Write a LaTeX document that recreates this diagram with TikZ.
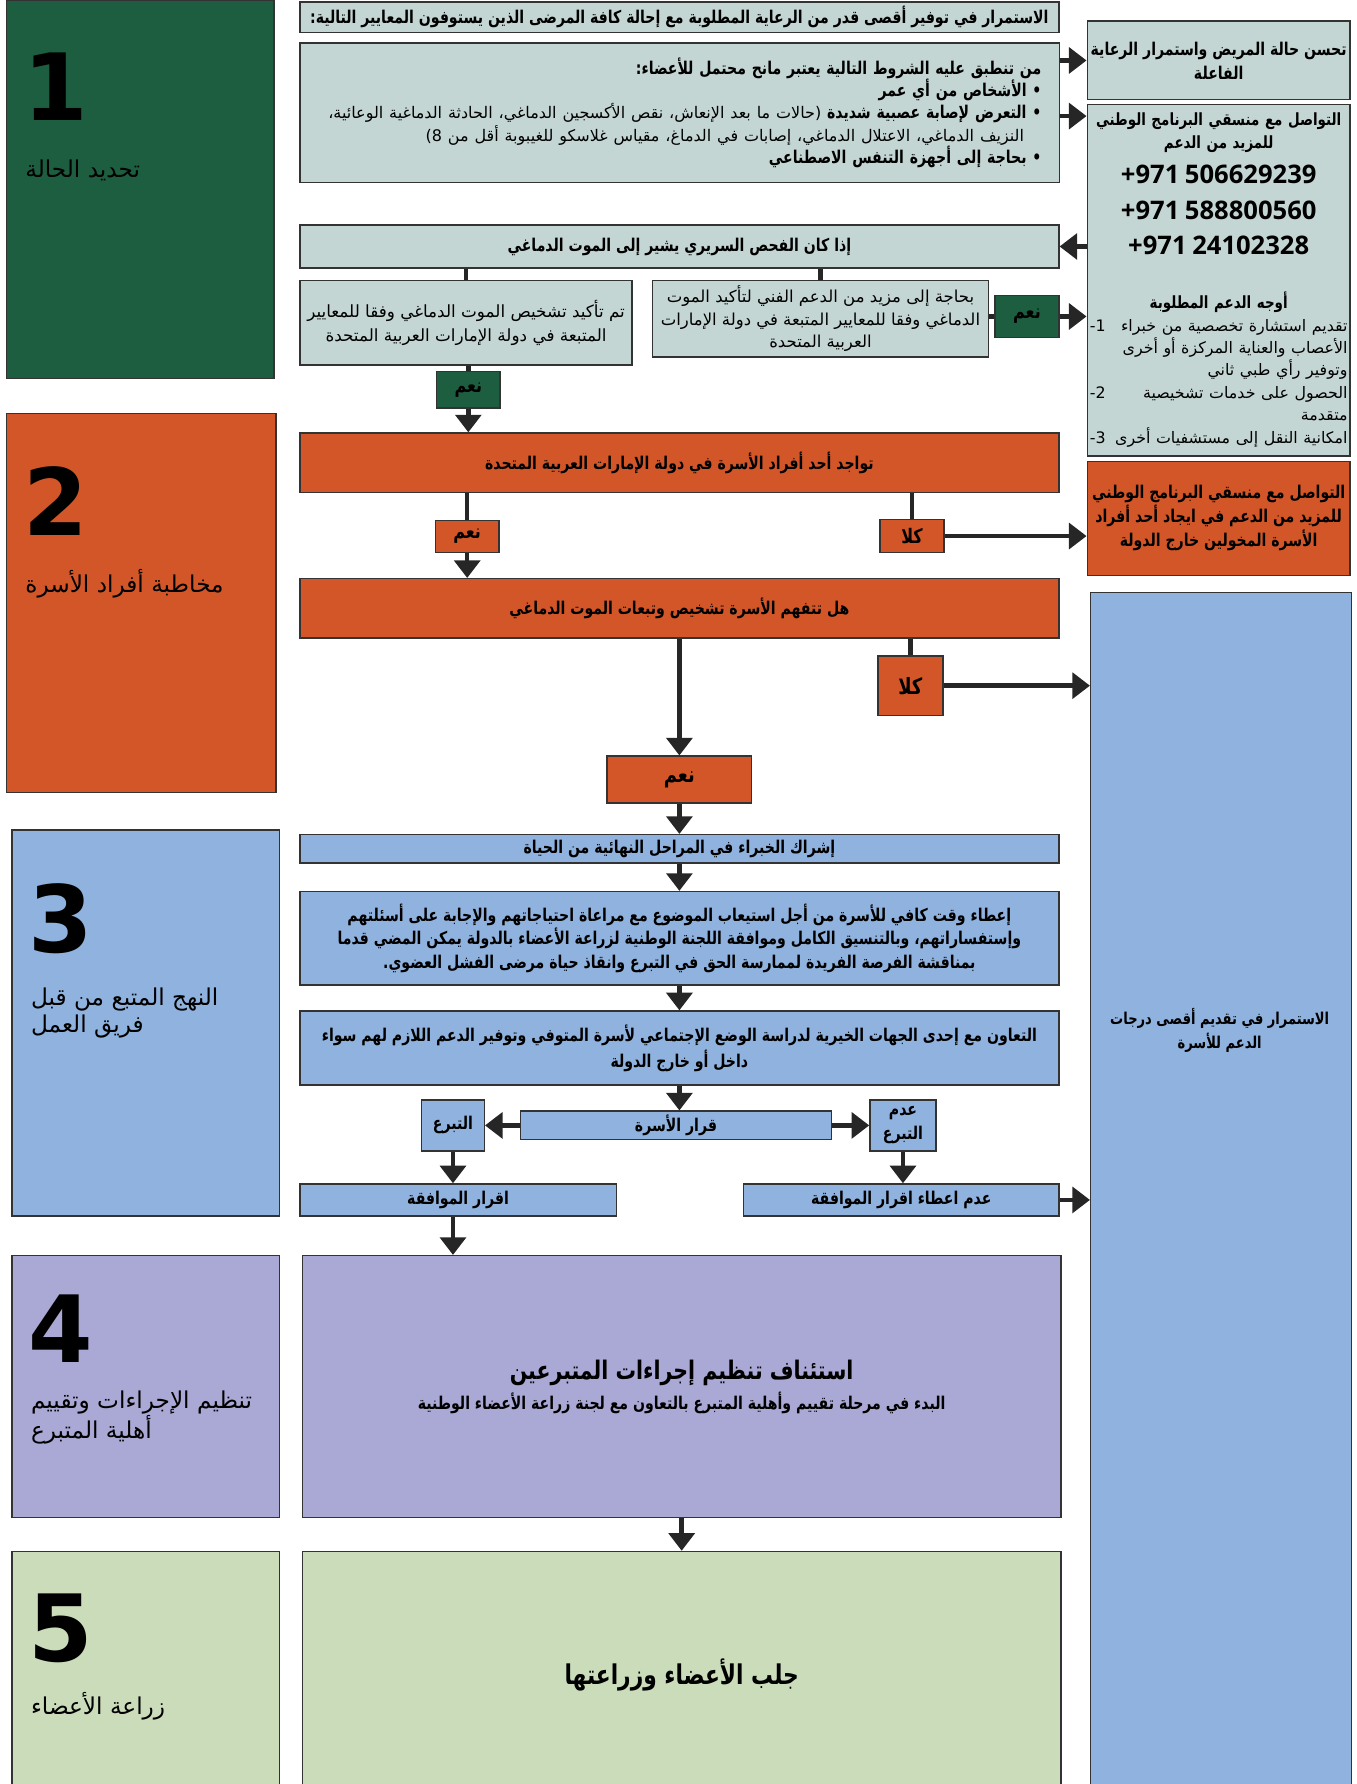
\documentclass[tikz,border=0pt]{standalone}
\usepackage{fontspec}
\setmainfont{DejaVu Sans}
\newfontfamily\arabicfont[Script=Arabic, BoldFeatures={FakeStretch=0.8}]{DejaVu Sans}
\newfontfamily\stagefont[Script=Arabic]{DejaVu Sans}
\newfontfamily\phonefont{Open Sans}
\TeXXeTstate=1
\usetikzlibrary{arrows.meta}

\definecolor{stepgreen}{HTML}{1E5E40}
\definecolor{famorange}{HTML}{D35628}
\definecolor{infogrey}{HTML}{C4D6D4}
\definecolor{teamblue}{HTML}{8FB2DE}
\definecolor{organlilac}{HTML}{AAA8D4}
\definecolor{graftgreen}{HTML}{CADCBA}

\newcommand{\artext}[1]{\beginR #1\endR}

\begin{document}
\begin{tikzpicture}[x=0.025cm, y=-0.025cm,
		wh/.style 2 args={minimum width=#1*0.025cm, minimum height=#2*0.025cm},
		box/.style={draw=black!80, line width=0.9pt, anchor=north west, inner sep=2pt, align=center,
			font=\arabicfont\bfseries\fontsize{11}{14}\selectfont},
		plainfont/.style={font=\arabicfont\fontsize{10.5}{15}\selectfont},
		yesno/.style={box, font=\arabicfont\bfseries\fontsize{12.5}{14}\selectfont},
		stage/.style={draw=black!80, line width=0.9pt, anchor=north west},
		stagenum/.style={anchor=north west, inner sep=0pt, font=\bfseries\fontsize{58}{58}\selectfont},
		stagetext/.style={anchor=north west, inner sep=0pt, align=left, font=\stagefont\fontsize{14.5}{17}\selectfont},
		link/.style={draw=black!85, line width=2.8pt},
		flow/.style={link, -{Triangle[length=11pt, width=16pt]}}]
	
	\useasboundingbox (0,0) rectangle (1192,1568);
	\clip (0,0) rectangle (1192,1568);
	
	% stages on the left
	\node[stage, fill=stepgreen, wh={235}{332}] (p1) at (5,0) {};
	\node[stage, fill=famorange, wh={237}{333}] (p2) at (5,363) {};
	\node[stage, fill=teamblue, wh={235}{339}] (p3) at (10,729) {};
	\node[stage, fill=organlilac, wh={235}{230}] (p4) at (10,1103) {};
	\node[stage, fill=graftgreen, wh={235}{215}] (p5) at (10,1363) {};
	
	\node[stagenum] (n1) at (20,46) {1};
	\node[stagetext] (t1) at (22,140) {\artext{تحديد الحالة}};
	\node[stagenum] (n2) at (20,410) {2};
	\node[stagetext] (t2) at (22,500) {\artext{مخاطبة أفراد الأسرة}};
	\node[stagenum] (n3) at (25,776) {3};
	\node[stagetext] (t3) at (27,868) {\artext{النهج المتبع من قبل}\\\artext{فريق العمل}};
	\node[stagenum] (n4) at (25,1138) {4};
	\node[stagetext] (t4) at (27,1222) {\artext{تنظيم الإجراءات وتقييم}\\\artext{أهلية المتبرع}};
	\node[stagenum] (n5) at (25,1401) {5};
	\node[stagetext] (t5) at (27,1487) {\artext{زراعة الأعضاء}};
	
	% 1: identify the case
	\node[box, fill=infogrey, wh={667}{27}] (intro) at (263,1)
		{\artext{الاستمرار في توفير أقصى قدر من الرعاية المطلوبة مع إحالة كافة المرضى الذين يستوفون المعايير التالية:}};
	\node[box, fill=infogrey, wh={667}{123}, text width=15.9cm, align=right, inner xsep=0.39cm] (crit) at (263,37)
		{\artext{من تنطبق عليه الشروط التالية يعتبر مانح محتمل للأعضاء:}\\
		 \artext{• الأشخاص من أي عمر}\\
		 \artext{• التعرض لإصابة عصبية شديدة {\mdseries\fontsize{10}{14}\selectfont (حالات ما بعد الإنعاش، نقص الأكسجين الدماغي، الحادثة الدماغية الوعائية،}}\\
		 \artext{\hspace*{1em}{\mdseries\fontsize{10}{14}\selectfont النزيف الدماغي، الاعتلال الدماغي، إصابات في الدماغ، مقياس غلاسكو للغيبوبة أقل من 8)}}\\
		 \artext{• بحاجة إلى أجهزة التنفس الاصطناعي}};
	\node[box, fill=infogrey, wh={231}{69}, font=\arabicfont\bfseries\fontsize{11}{15}\selectfont] (improve) at (955,18)
		{\artext{تحسن حالة المريض واستمرار الرعاية}\\\artext{الفاعلة}};
	\node[box, fill=infogrey, wh={231}{309}, text width=5.66cm, inner xsep=0.05cm,
		font=\arabicfont\bfseries\fontsize{10.5}{14}\selectfont] (contact) at (955,91)
		{\artext{التواصل مع منسقي البرنامج الوطني}\\
		 \artext{للمزيد من الدعم}\\[7pt]
		 {\phonefont\bfseries\fontsize{16}{20}\selectfont +971 506629239}\\[8pt]
		 {\phonefont\bfseries\fontsize{16}{20}\selectfont +971 588800560}\\[8pt]
		 {\phonefont\bfseries\fontsize{16}{20}\selectfont +971 24102328}\\[20pt]
		 \artext{أوجه الدعم المطلوبة}\\
		 {\mdseries\fontsize{9.9}{14}\selectfont
		 1-\hfill\artext{تقديم استشارة تخصصية من خبراء}\\
		 \hspace*{1.1em}\hfill\artext{الأعصاب والعناية المركزة أو أخرى}\\
		 \hspace*{\fill}\artext{وتوفير رأي طبي ثاني}\hspace*{0.8em}\\
		 2-\hfill\artext{الحصول على خدمات تشخيصية}\\
		 \hspace*{\fill}\artext{متقدمة}\hspace*{0.8em}\\
		 3-\hfill\artext{امكانية النقل إلى مستشفيات أخرى}}};
	
	\node[box, fill=infogrey, wh={667}{38}] (brain) at (263,197)
		{\artext{إذا كان الفحص السريري يشير إلى الموت الدماغي}};
	\node[box, plainfont, fill=infogrey, wh={292}{74}] (confirmed) at (263,246)
		{\artext{تم تأكيد تشخيص الموت الدماغي وفقا للمعايير}\\\artext{المتبعة في دولة الإمارات العربية المتحدة}};
	\node[box, plainfont, fill=infogrey, wh={295}{67}, font=\arabicfont\fontsize{10.3}{14}\selectfont] (needmore) at (573,246)
		{\artext{بحاجة إلى مزيد من الدعم الفني لتأكيد الموت}\\\artext{الدماغي وفقا للمعايير المتبعة في دولة الإمارات}\\\artext{العربية المتحدة}};
	\node[yesno, fill=stepgreen, wh={56}{37}] (nyes) at (874,259) {\artext{نعم}};
	\node[yesno, fill=stepgreen, wh={56}{32}] (cyes) at (383,326) {\artext{نعم}};
	
	% 2: talk to the family
	\node[box, fill=famorange, wh={667}{52}] (famA) at (263,380)
		{\artext{تواجد أحد أفراد الأسرة في دولة الإمارات العربية المتحدة}};
	\node[yesno, fill=famorange, wh={56}{28}] (fyes) at (382,457) {\artext{نعم}};
	\node[yesno, fill=famorange, wh={56}{29}] (fno) at (773,456) {\artext{كلا}};
	\node[box, fill=famorange, wh={231}{100}, font=\arabicfont\bfseries\fontsize{11}{15}\selectfont] (famR) at (955,405)
		{\artext{التواصل مع منسقي البرنامج الوطني}\\\artext{للمزيد من الدعم في ايجاد أحد أفراد}\\\artext{الأسرة المخولين خارج الدولة}};
	\node[box, fill=famorange, wh={667}{52}] (famB) at (263,508)
		{\artext{هل تتفهم الأسرة تشخيص وتبعات الموت الدماغي}};
	\node[yesno, fill=famorange, wh={57}{52}, font=\arabicfont\bfseries\fontsize{14}{14}\selectfont] (fno2) at (771,576) {\artext{كلا}};
	\node[yesno, fill=famorange, wh={127}{41}, font=\arabicfont\bfseries\fontsize{14}{14}\selectfont] (fyes2) at (533,664) {\artext{نعم}};
	
	\node[box, fill=teamblue, wh={229}{1060}] (support) at (958,520) {};
	\node[align=center, font=\arabicfont\bfseries\fontsize{10.2}{15}\selectfont] (supporttext) at (1072,906)
		{\artext{الاستمرار في تقديم أقصى درجات}\\\artext{الدعم للأسرة}};
	
	% 3: team approach
	\node[box, fill=teamblue, wh={667}{25}] (team1) at (263,733)
		{\artext{إشراك الخبراء في المراحل النهائية من الحياة}};
	\node[box, fill=teamblue, wh={667}{82}, font=\arabicfont\bfseries\fontsize{11}{14.5}\selectfont] (team2) at (263,783)
		{\artext{إعطاء وقت كافي للأسرة من أجل استيعاب الموضوع مع مراعاة احتياجاتهم والإجابة على أسئلتهم}\\
		 \artext{وإستفساراتهم، وبالتنسيق الكامل وموافقة اللجنة الوطنية لزراعة الأعضاء بالدولة يمكن المضي قدما}\\
		 \artext{بمناقشة الفرصة الفريدة لممارسة الحق في التبرع وانقاذ حياة مرضى الفشل العضوي.}};
	\node[box, fill=teamblue, wh={667}{65}, font=\arabicfont\bfseries\fontsize{11}{16}\selectfont] (team3) at (263,888)
		{\artext{التعاون مع إحدى الجهات الخيرية لدراسة الوضع الإجتماعي لأسرة المتوفي وتوفير الدعم اللازم لهم سواء}\\
		 \artext{داخل أو خارج الدولة}};
	\node[box, fill=teamblue, wh={273}{25}] (decide) at (457,976) {\artext{قرار الأسرة}};
	\node[box, fill=teamblue, wh={55}{45}] (donate) at (370,966) {\artext{التبرع}};
	\node[box, fill=teamblue, wh={58}{45}, font=\arabicfont\bfseries\fontsize{11}{15}\selectfont] (nodonate) at (764,966) {\artext{عدم}\\\artext{التبرع}};
	\node[box, fill=teamblue, wh={278}{28}] (agree) at (263,1040) {\artext{اقرار الموافقة}};
	\node[box, fill=teamblue, wh={277}{28}] (noagree) at (653,1040) {\artext{عدم اعطاء اقرار الموافقة}};
	
	% 4 and 5
	\node[box, fill=organlilac, wh={667}{230}] (organise) at (265,1103)
		{{\fontsize{16}{20}\selectfont\artext{استئناف تنظيم إجراءات المتبرعين}}\\[3pt]
		 \artext{البدء في مرحلة تقييم وأهلية المتبرع بالتعاون مع لجنة زراعة الأعضاء الوطنية}};
	\node[box, fill=graftgreen, wh={667}{217}, font=\arabicfont\bfseries\fontsize{17}{20}\selectfont] (transplant) at (265,1363)
		{\artext{جلب الأعضاء وزراعتها}};
	
	% connectors
	\coordinate (critout) at ([yshift=-1.625cm]crit.north east);
	\draw[flow] (crit.east |- improve) -- (improve);
	\draw[flow] (critout) -- (critout -| contact.west);
	\draw[flow] (contact.west |- brain) -- (brain);
	\draw[link] (brain.south -| confirmed) -- (confirmed);
	\draw[link] (brain.south -| needmore) -- (needmore);
	\draw[link] (needmore.east |- nyes) -- (nyes);
	\draw[flow] (nyes) -- (nyes -| contact.west);
	\draw[link] (cyes |- confirmed.south) -- (cyes);
	\draw[flow] (cyes) -- (cyes |- famA.north);
	
	\draw[link] (fyes |- famA.south) -- (fyes);
	\draw[flow] (fyes) -- (fyes |- famB.north);
	\draw[link] (fno |- famA.south) -- (fno);
	\draw[flow] (fno) -- (fno -| famR.west);
	\draw[link] (fno2 |- famB.south) -- (fno2);
	\draw[flow] (fno2) -- (fno2 -| support.west);
	\draw[flow] (famB.south) -- (famB.south |- fyes2.north);
	
	\draw[flow] (fyes2.south) -- (fyes2.south |- team1.north);
	\draw[flow] (team1.south) -- (team1.south |- team2.north);
	\draw[flow] (team2.south) -- (team2.south |- team3.north);
	\draw[flow] (team3.south) -- (team3.south |- decide.north);
	\draw[flow] (decide) -- (donate);
	\draw[flow] (decide) -- (nodonate);
	\draw[flow] (donate) -- (donate |- agree.north);
	\draw[flow] (nodonate) -- (nodonate |- noagree.north);
	\draw[flow] (noagree) -- (noagree -| support.west);
	\draw[flow] (donate |- agree.south) -- (donate |- organise.north);
	\draw[flow] (organise.south) -- (organise.south |- transplant.north);
	
\end{tikzpicture}
\end{document}
